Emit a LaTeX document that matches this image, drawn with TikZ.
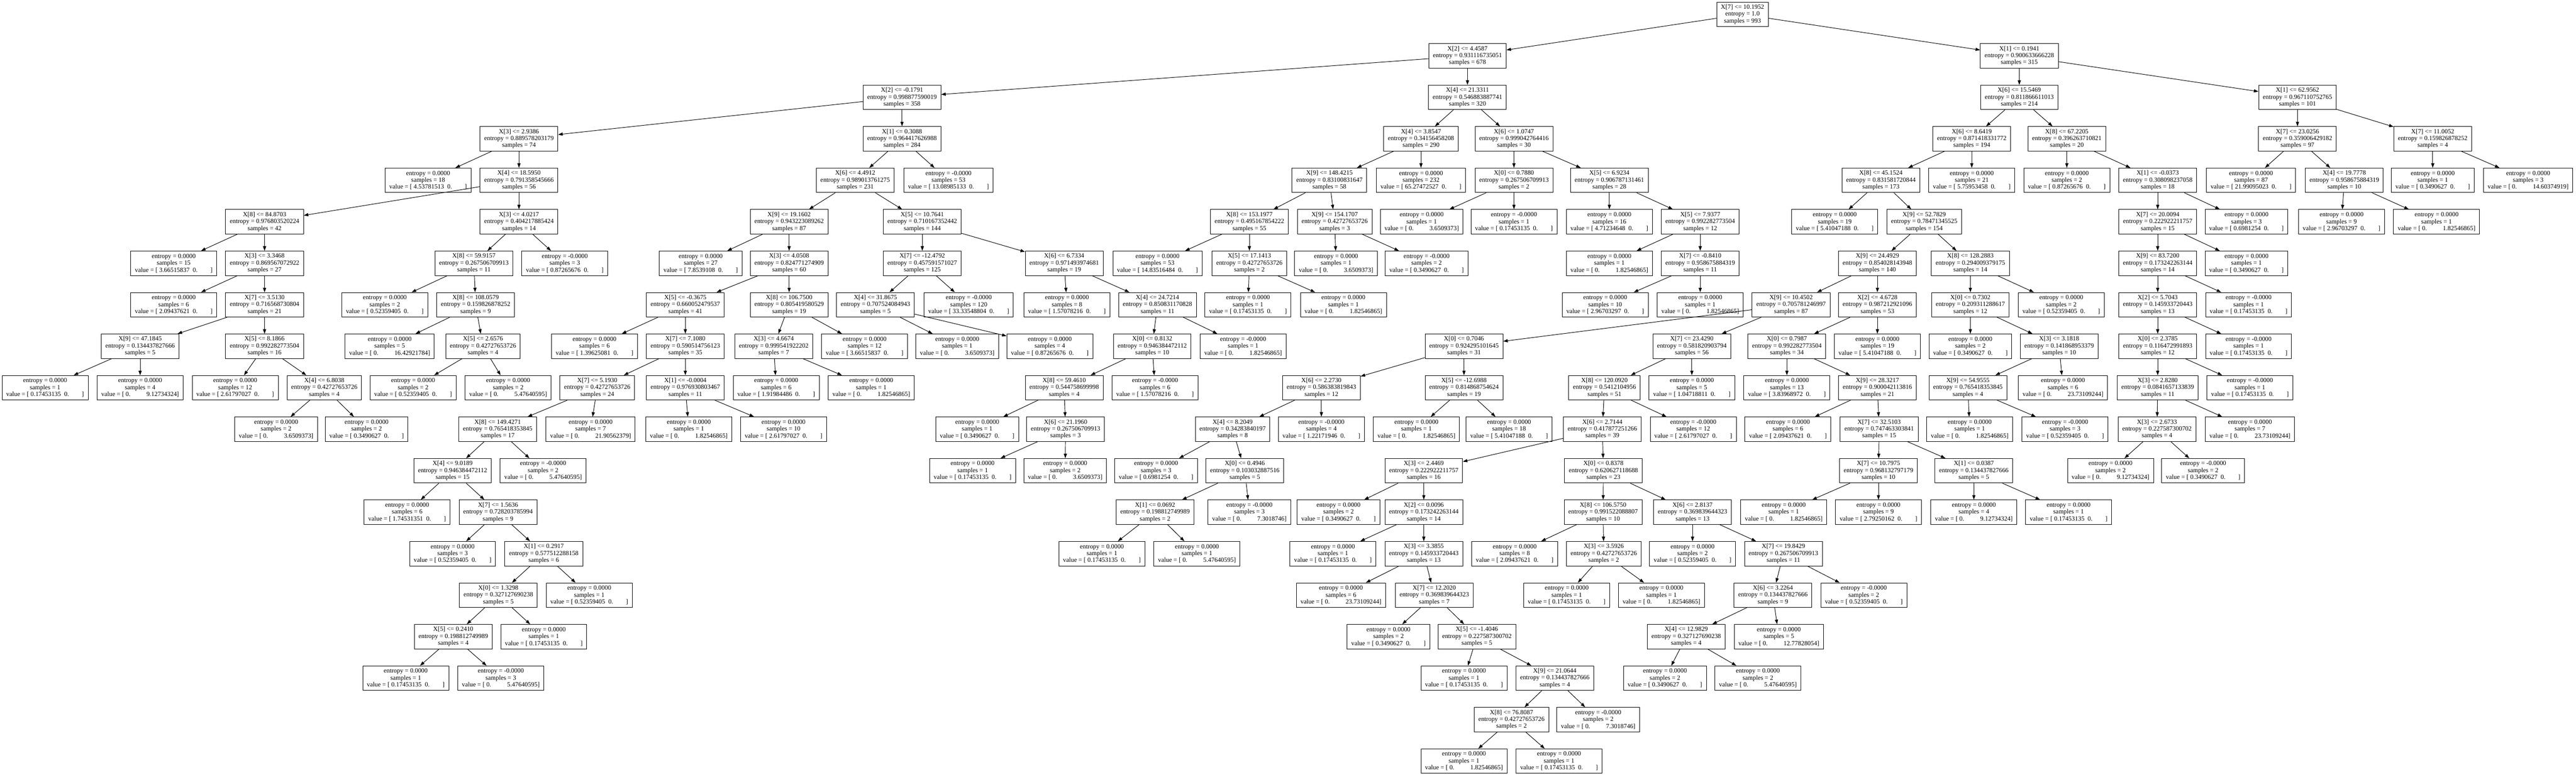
\documentclass[tikz,border=0pt]{standalone}
\usepackage{fontspec}
\setmainfont{Liberation Serif}
\usepackage{tikz}
\usetikzlibrary{arrows.meta}

\newcommand{\treefont}{\fontsize{5.2pt}{5.63pt}\selectfont}
\newcommand{\splittxt}[3]{#1\\entropy = #2\\samples = #3}
\newcommand{\leafl}[3]{entropy = #1\\samples = #2\\value = [ #3\hspace{.5em}0.\hspace{2em}]}
\newcommand{\leafr}[3]{entropy = #1\\samples = #2\\value = [ 0.\hspace{2.5em}#3]}

\begin{document}
\begin{tikzpicture}[
  x=0.01cm, y=-1.187cm,
  decision/.style={draw, line width=0.4pt, anchor=north, align=center, font=\treefont, inner xsep=0.12cm, inner ysep=0pt, minimum height=0.7cm},
  leaf/.style={decision},
  >={Triangle[length=1.3mm, width=0.9mm]}
]
\useasboundingbox (0,-0.0455) rectangle (7371,18.632);

% Root and first splits
\node[decision] (r0a) at (4986,0) {\splittxt{X[7] <= 10.1952}{1.0}{993}};
\node[decision] (r1a) at (4199,1) {\splittxt{X[2] <= 4.4587}{0.931116735051}{678}};
\node[decision] (r1b) at (5778,1) {\splittxt{X[1] <= 0.1941}{0.900633666228}{315}};

% Row 2
\node[decision] (r2a) at (2581,2) {\splittxt{X[2] <= -0.1791}{0.998877590019}{358}};
\node[decision] (r2b) at (4199,2) {\splittxt{X[4] <= 21.3311}{0.546883887741}{320}};
\node[decision] (r2c) at (5778,2) {\splittxt{X[6] <= 15.5469}{0.811866611013}{214}};
\node[decision] (r2d) at (6574,2) {\splittxt{X[1] <= 62.9562}{0.967110752765}{101}};

% Row 3
\node[decision] (r3a) at (1485,3) {\splittxt{X[3] <= 2.9386}{0.889578203179}{74}};
\node[decision] (r3b) at (2581,3) {\splittxt{X[1] <= 0.3088}{0.964417626988}{284}};
\node[decision] (r3c) at (4066,3) {\splittxt{X[4] <= 3.8547}{0.34156458208}{290}};
\node[decision] (r3d) at (4332,3) {\splittxt{X[6] <= 1.0747}{0.999042764416}{30}};
\node[decision] (r3e) at (5642,3) {\splittxt{X[6] <= 8.6419}{0.871418331772}{194}};
\node[decision] (r3f) at (5914,3) {\splittxt{X[8] <= 67.2205}{0.396263710821}{20}};
\node[decision] (r3g) at (6574,3) {\splittxt{X[7] <= 23.0256}{0.359006429182}{97}};
\node[decision] (r3h) at (6961,3) {\splittxt{X[7] <= 11.0052}{0.159826878252}{4}};

% Row 4
\node[leaf] (r4a) at (1225,4) {\leafl{0.0000}{18}{4.53781513}};
\node[decision] (r4b) at (1485,4) {\splittxt{X[4] <= 18.5950}{0.791358545666}{56}};
\node[decision] (r4c) at (2447,4) {\splittxt{X[6] <= 4.4912}{0.989013761275}{231}};
\node[leaf] (r4d) at (2714,4) {\leafl{-0.0000}{53}{13.08985133}};
\node[decision] (r4e) at (3804,4) {\splittxt{X[9] <= 148.4215}{0.83100831647}{58}};
\node[leaf] (r4f) at (4066,4) {\leafl{0.0000}{232}{65.27472527}};
\node[decision] (r4g) at (4332,4) {\splittxt{X[0] <= 0.7880}{0.267506709913}{2}};
\node[decision] (r4h) at (4605,4) {\splittxt{X[5] <= 6.9234}{0.906787131461}{28}};
\node[decision] (r4i) at (5382,4) {\splittxt{X[8] <= 45.1524}{0.831581720844}{173}};
\node[leaf] (r4j) at (5642,4) {\leafl{0.0000}{21}{5.75953458}};
\node[leaf] (r4k) at (5914,4) {\leafl{0.0000}{2}{0.87265676}};
\node[decision] (r4l) at (6174,4) {\splittxt{X[1] <= -0.0373}{0.308098237058}{18}};
\node[leaf] (r4m) at (6441,4) {\leafl{0.0000}{87}{21.99095023}};
\node[decision] (r4n) at (6708,4) {\splittxt{X[4] <= 19.7778}{0.958675884319}{10}};
\node[leaf] (r4o) at (6961,4) {\leafl{0.0000}{1}{0.3490627}};
\node[leaf] (r4p) at (7234,4) {\leafr{0.0000}{3}{14.60374919}};

% Row 5
\node[decision] (r5a) at (757,5) {\splittxt{X[8] <= 84.8703}{0.976803520224}{42}};
\node[decision] (r5b) at (1485,5) {\splittxt{X[3] <= 4.0217}{0.404217885424}{14}};
\node[decision] (r5c) at (2258,5) {\splittxt{X[9] <= 19.1602}{0.943223089262}{87}};
\node[decision] (r5d) at (2639,5) {\splittxt{X[5] <= 10.7641}{0.710167352442}{144}};
\node[decision] (r5e) at (3575,5) {\splittxt{X[8] <= 153.1977}{0.495167854222}{55}};
\node[decision] (r5f) at (3819,5) {\splittxt{X[9] <= 154.1707}{0.42727653726}{3}};
\node[leaf] (r5g) at (4068,5) {\leafr{0.0000}{1}{3.6509373}};
\node[leaf] (r5h) at (4332,5) {\leafl{-0.0000}{1}{0.17453135}};
\node[leaf] (r5i) at (4605,5) {\leafl{0.0000}{16}{4.71234648}};
\node[decision] (r5j) at (4865,5) {\splittxt{X[5] <= 7.9377}{0.992282773504}{12}};
\node[leaf] (r5k) at (5250,5) {\leafl{0.0000}{19}{5.41047188}};
\node[decision] (r5l) at (5506,5) {\splittxt{X[9] <= 52.7829}{0.78471345525}{154}};
\node[decision] (r5m) at (6174,5) {\splittxt{X[7] <= 20.0094}{0.222922211757}{15}};
\node[leaf] (r5n) at (6428,5) {\leafl{0.0000}{3}{0.6981254}};
\node[leaf] (r5o) at (6700,5) {\leafl{0.0000}{9}{2.96703297}};
\node[leaf] (r5p) at (6972,5) {\leafr{0.0000}{1}{1.82546865}};

% Row 6
\node[leaf] (r6a) at (497,6) {\leafl{0.0000}{15}{3.66515837}};
\node[decision] (r6b) at (757,6) {\splittxt{X[3] <= 3.3468}{0.869567072922}{27}};
\node[decision] (r6c) at (1356,6) {\splittxt{X[8] <= 59.9157}{0.267506709913}{11}};
\node[leaf] (r6d) at (1616,6) {\leafl{-0.0000}{3}{0.87265676}};
\node[leaf] (r6e) at (2005,6) {\leafl{0.0000}{27}{7.8539108}};
\node[decision] (r6f) at (2258,6) {\splittxt{X[3] <= 4.0508}{0.824771274909}{60}};
\node[decision] (r6g) at (2639,6) {\splittxt{X[7] <= -12.4792}{0.457591571027}{125}};
\node[decision] (r6h) at (3045,6) {\splittxt{X[6] <= 6.7334}{0.971493974681}{19}};
\node[leaf] (r6i) at (3312,6) {\leafl{0.0000}{53}{14.83516484}};
\node[decision] (r6j) at (3575,6) {\splittxt{X[5] <= 17.1413}{0.42727653726}{2}};
\node[leaf] (r6k) at (3823,6) {\leafr{0.0000}{1}{3.6509373}};
\node[leaf] (r6l) at (4082,6) {\leafl{-0.0000}{2}{0.3490627}};
\node[leaf] (r6m) at (4605,6) {\leafr{0.0000}{1}{1.82546865}};
\node[decision] (r6n) at (4865,6) {\splittxt{X[7] <= -0.8410}{0.958675884319}{11}};
\node[decision] (r6o) at (5372,6) {\splittxt{X[9] <= 24.4929}{0.854028143948}{140}};
\node[decision] (r6p) at (5638,6) {\splittxt{X[8] <= 128.2883}{0.294009379175}{14}};
\node[decision] (r6q) at (6174,6) {\splittxt{X[9] <= 83.7200}{0.173242263144}{14}};
\node[leaf] (r6r) at (6428,6) {\leafl{0.0000}{1}{0.3490627}};

% Row 7
\node[leaf] (r7a) at (497,7) {\leafl{0.0000}{6}{2.09437621}};
\node[decision] (r7b) at (757,7) {\splittxt{X[7] <= 3.5130}{0.716568730804}{21}};
\node[leaf] (r7c) at (1101,7) {\leafl{0.0000}{2}{0.52359405}};
\node[decision] (r7d) at (1361,7) {\splittxt{X[8] <= 108.0579}{0.159826878252}{9}};
\node[decision] (r7e) at (1961,7) {\splittxt{X[5] <= -0.3675}{0.660052479537}{41}};
\node[decision] (r7f) at (2258,7) {\splittxt{X[8] <= 106.7500}{0.805419580529}{19}};
\node[decision] (r7g) at (2505,7) {\splittxt{X[4] <= 31.8675}{0.707524084943}{5}};
\node[leaf] (r7h) at (2772,7) {\leafl{-0.0000}{120}{33.33548804}};
\node[leaf] (r7i) at (3053,7) {\leafl{0.0000}{8}{1.57078216}};
\node[decision] (r7j) at (3312,7) {\splittxt{X[4] <= 24.7214}{0.850831170828}{11}};
\node[leaf] (r7k) at (3571,7) {\leafl{0.0000}{1}{0.17453135}};
\node[leaf] (r7l) at (3844,7) {\leafr{0.0000}{1}{1.82546865}};
\node[leaf] (r7m) at (4593,7) {\leafl{0.0000}{10}{2.96703297}};
\node[leaf] (r7n) at (4865,7) {\leafr{0.0000}{1}{1.82546865}};
\node[decision] (r7o) at (5125,7) {\splittxt{X[9] <= 10.4502}{0.705781246997}{87}};
\node[decision] (r7p) at (5372,7) {\splittxt{X[2] <= 4.6728}{0.987212921096}{53}};
\node[decision] (r7q) at (5638,7) {\splittxt{X[0] <= 0.7302}{0.209311288617}{12}};
\node[leaf] (r7r) at (5898,7) {\leafl{0.0000}{2}{0.52359405}};
\node[decision] (r7s) at (6174,7) {\splittxt{X[2] <= 5.7043}{0.145933720443}{13}};
\node[leaf] (r7t) at (6434,7) {\leafl{-0.0000}{1}{0.17453135}};

% Row 8
\node[decision] (r8a) at (401,8) {\splittxt{X[9] <= 47.1845}{0.134437827666}{5}};
\node[decision] (r8b) at (757,8) {\splittxt{X[5] <= 8.1866}{0.992282773504}{16}};
\node[leaf] (r8c) at (1115,8) {\leafr{0.0000}{5}{16.42921784}};
\node[decision] (r8d) at (1382,8) {\splittxt{X[5] <= 2.6576}{0.42727653726}{4}};
\node[leaf] (r8e) at (1701,8) {\leafl{0.0000}{6}{1.39625081}};
\node[decision] (r8f) at (1961,8) {\splittxt{X[7] <= 7.1080}{0.590514756123}{35}};
\node[decision] (r8g) at (2214,8) {\splittxt{X[3] <= 4.6674}{0.999541922202}{7}};
\node[leaf] (r8h) at (2474,8) {\leafl{0.0000}{12}{3.66515837}};
\node[leaf] (r8i) at (2739,8) {\leafr{0.0000}{1}{3.6509373}};
\node[leaf] (r8j) at (3004,8) {\leafl{0.0000}{4}{0.87265676}};
\node[decision] (r8k) at (3297,8) {\splittxt{X[0] <= 0.8132}{0.946384472112}{10}};
\node[leaf] (r8l) at (3557,8) {\leafr{-0.0000}{1}{1.82546865}};
\node[decision] (r8m) at (4189,8) {\splittxt{X[0] <= 0.7046}{0.924295101645}{31}};
\node[decision] (r8n) at (4841,8) {\splittxt{X[7] <= 23.4290}{0.581820903794}{56}};
\node[decision] (r8o) at (5113,8) {\splittxt{X[0] <= 0.7987}{0.992282773504}{34}};
\node[leaf] (r8p) at (5372,8) {\leafl{0.0000}{19}{5.41047188}};
\node[leaf] (r8q) at (5638,8) {\leafl{0.0000}{2}{0.3490627}};
\node[decision] (r8r) at (5892,8) {\splittxt{X[3] <= 3.1818}{0.141868953379}{10}};
\node[decision] (r8s) at (6174,8) {\splittxt{X[0] <= 2.3785}{0.116472991893}{12}};
\node[leaf] (r8t) at (6434,8) {\leafl{-0.0000}{1}{0.17453135}};

% Row 9
\node[leaf] (r9a) at (129,9) {\leafl{0.0000}{1}{0.17453135}};
\node[leaf] (r9b) at (401,9) {\leafr{0.0000}{4}{9.12734324}};
\node[leaf] (r9c) at (673,9) {\leafl{0.0000}{12}{2.61797027}};
\node[decision] (r9d) at (928,9) {\splittxt{X[4] <= 6.8038}{0.42727653726}{4}};
\node[leaf] (r9e) at (1182,9) {\leafl{0.0000}{2}{0.52359405}};
\node[leaf] (r9f) at (1454,9) {\leafr{0.0000}{2}{5.47640595}};
\node[decision] (r9g) at (1709,9) {\splittxt{X[7] <= 5.1930}{0.42727653726}{24}};
\node[decision] (r9h) at (1961,9) {\splittxt{X[1] <= -0.0004}{0.976930803467}{11}};
\node[leaf] (r9i) at (2221,9) {\leafl{0.0000}{6}{1.91984486}};
\node[leaf] (r9j) at (2493,9) {\leafr{0.0000}{1}{1.82546865}};
\node[decision] (r9k) at (3045,9) {\splittxt{X[8] <= 59.4610}{0.544758699998}{4}};
\node[leaf] (r9l) at (3305,9) {\leafl{-0.0000}{6}{1.57078216}};
\node[decision] (r9m) at (3781,9) {\splittxt{X[6] <= 2.2730}{0.586383819843}{12}};
\node[decision] (r9n) at (4189,9) {\splittxt{X[5] <= -12.6988}{0.814868754624}{19}};
\node[decision] (r9o) at (4591,9) {\splittxt{X[8] <= 120.0920}{0.5412104956}{51}};
\node[leaf] (r9p) at (4841,9) {\leafl{0.0000}{5}{1.04718811}};
\node[leaf] (r9q) at (5113,9) {\leafl{0.0000}{13}{3.83968972}};
\node[decision] (r9r) at (5372,9) {\splittxt{X[9] <= 28.3217}{0.900042113816}{21}};
\node[decision] (r9s) at (5631,9) {\splittxt{X[9] <= 54.9555}{0.765418353845}{4}};
\node[leaf] (r9t) at (5903,9) {\leafr{0.0000}{6}{23.73109244}};
\node[decision] (r9u) at (6174,9) {\splittxt{X[3] <= 2.8280}{0.0841657133839}{11}};
\node[leaf] (r9v) at (6438,9) {\leafl{-0.0000}{1}{0.17453135}};

% Row 10
\node[leaf] (r10a) at (790,10) {\leafr{0.0000}{2}{3.6509373}};
\node[leaf] (r10b) at (1049,10) {\leafl{0.0000}{2}{0.3490627}};
\node[decision] (r10c) at (1424,10) {\splittxt{X[8] <= 149.4271}{0.765418353845}{17}};
\node[leaf] (r10d) at (1690,10) {\leafr{0.0000}{7}{21.90562379}};
\node[leaf] (r10e) at (1971,10) {\leafr{0.0000}{1}{1.82546865}};
\node[leaf] (r10f) at (2242,10) {\leafl{0.0000}{10}{2.61797027}};
\node[leaf] (r10g) at (2796,10) {\leafl{0.0000}{1}{0.3490627}};
\node[decision] (r10h) at (3049,10) {\splittxt{X[6] <= 21.1960}{0.267506709913}{3}};
\node[decision] (r10i) at (3527,10) {\splittxt{X[4] <= 8.2049}{0.34283840197}{8}};
\node[leaf] (r10j) at (3781,10) {\leafl{-0.0000}{4}{1.22171946}};
\node[leaf] (r10k) at (4053,10) {\leafr{0.0000}{1}{1.82546865}};
\node[leaf] (r10l) at (4318,10) {\leafl{0.0000}{18}{5.41047188}};
\node[decision] (r10m) at (4585,10) {\splittxt{X[6] <= 2.7144}{0.417877251266}{39}};
\node[leaf] (r10n) at (4845,10) {\leafl{-0.0000}{12}{2.61797027}};
\node[leaf] (r10o) at (5116,10) {\leafl{0.0000}{6}{2.09437621}};
\node[decision] (r10p) at (5377,10) {\splittxt{X[7] <= 32.5103}{0.747463303841}{15}};
\node[leaf] (r10q) at (5636,10) {\leafr{0.0000}{1}{1.82546865}};
\node[leaf] (r10r) at (5909,10) {\leafl{-0.0000}{3}{0.52359405}};
\node[decision] (r10s) at (6172,10) {\splittxt{X[3] <= 2.6733}{0.227587300702}{4}};
\node[leaf] (r10t) at (6438,10) {\leafr{0.0000}{7}{23.73109244}};

% Row 11
\node[decision] (r11a) at (1295,11) {\splittxt{X[4] <= 9.0189}{0.946384472112}{15}};
\node[leaf] (r11b) at (1554,11) {\leafr{-0.0000}{2}{5.47640595}};
\node[leaf] (r11c) at (2783,11) {\leafl{0.0000}{1}{0.17453135}};
\node[leaf] (r11d) at (3048,11) {\leafr{0.0000}{2}{3.6509373}};
\node[leaf] (r11e) at (3308,11) {\leafl{0.0000}{3}{0.6981254}};
\node[decision] (r11f) at (3562,11) {\splittxt{X[0] <= 0.4946}{0.103032887516}{5}};
\node[decision] (r11g) at (4074,11) {\splittxt{X[3] <= 2.4469}{0.222922211757}{16}};
\node[decision] (r11h) at (4588,11) {\splittxt{X[0] <= 0.8378}{0.620627118688}{23}};
\node[decision] (r11i) at (5375,11) {\splittxt{X[7] <= 10.7975}{0.968132797179}{10}};
\node[decision] (r11j) at (5648,11) {\splittxt{X[1] <= 0.0387}{0.134437827666}{5}};
\node[leaf] (r11k) at (6039,11) {\leafr{0.0000}{2}{9.12734324}};
\node[leaf] (r11l) at (6304,11) {\leafl{-0.0000}{2}{0.3490627}};

% Row 12
\node[leaf] (r12a) at (1165,12) {\leafl{0.0000}{6}{1.74531351}};
\node[decision] (r12b) at (1425,12) {\splittxt{X[7] <= 1.5636}{0.728203785994}{9}};
\node[decision] (r12c) at (3305,12) {\splittxt{X[1] <= 0.0692}{0.198812749989}{2}};
\node[leaf] (r12d) at (3575,12) {\leafr{-0.0000}{3}{7.3018746}};
\node[leaf] (r12e) at (3830,12) {\leafl{0.0000}{2}{0.3490627}};
\node[decision] (r12f) at (4074,12) {\splittxt{X[2] <= 0.0096}{0.173242263144}{14}};
\node[decision] (r12g) at (4587,12) {\splittxt{X[8] <= 106.5750}{0.991522088807}{10}};
\node[decision] (r12h) at (4843,12) {\splittxt{X[6] <= 2.8137}{0.369839644323}{13}};
\node[leaf] (r12i) at (5104,12) {\leafr{0.0000}{1}{1.82546865}};
\node[leaf] (r12j) at (5375,12) {\leafl{0.0000}{9}{2.79250162}};
\node[leaf] (r12k) at (5648,12) {\leafr{0.0000}{4}{9.12734324}};
\node[leaf] (r12l) at (5919,12) {\leafl{0.0000}{1}{0.17453135}};

% Row 13
\node[leaf] (r13a) at (1295,13) {\leafl{0.0000}{3}{0.52359405}};
\node[decision] (r13b) at (1556,13) {\splittxt{X[1] <= 0.2917}{0.577512288158}{6}};
\node[leaf] (r13c) at (3153,13) {\leafl{0.0000}{1}{0.17453135}};
\node[leaf] (r13d) at (3425,13) {\leafr{0.0000}{1}{5.47640595}};
\node[leaf] (r13e) at (3814,13) {\leafl{0.0000}{1}{0.17453135}};
\node[decision] (r13f) at (4074,13) {\splittxt{X[3] <= 3.3855}{0.145933720443}{13}};
\node[leaf] (r13g) at (4334,13) {\leafl{0.0000}{8}{2.09437621}};
\node[decision] (r13h) at (4589,13) {\splittxt{X[3] <= 3.5926}{0.42727653726}{2}};
\node[leaf] (r13i) at (4843,13) {\leafl{0.0000}{2}{0.52359405}};
\node[decision] (r13j) at (5103,13) {\splittxt{X[7] <= 19.8429}{0.267506709913}{11}};

% Row 14
\node[decision] (r14a) at (1426,14) {\splittxt{X[0] <= 1.3298}{0.327127690238}{5}};
\node[leaf] (r14b) at (1686,14) {\leafl{0.0000}{1}{0.52359405}};
\node[leaf] (r14c) at (3837,14) {\leafr{0.0000}{6}{23.73109244}};
\node[decision] (r14d) at (4104,14) {\splittxt{X[7] <= 12.2020}{0.369839644323}{7}};
\node[leaf] (r14e) at (4483,14) {\leafl{0.0000}{1}{0.17453135}};
\node[leaf] (r14f) at (4754,14) {\leafr{0.0000}{1}{1.82546865}};
\node[decision] (r14g) at (5073,14) {\splittxt{X[6] <= 3.2264}{0.134437827666}{9}};
\node[leaf] (r14h) at (5333,14) {\leafl{-0.0000}{2}{0.52359405}};

% Row 15
\node[decision] (r15a) at (1297,15) {\splittxt{X[5] <= 0.2410}{0.198812749989}{4}};
\node[leaf] (r15b) at (1556,15) {\leafl{0.0000}{1}{0.17453135}};
\node[leaf] (r15c) at (3973,15) {\leafl{0.0000}{2}{0.3490627}};
\node[decision] (r15d) at (4226,15) {\splittxt{X[5] <= -1.4046}{0.227587300702}{5}};
\node[decision] (r15e) at (4825,15) {\splittxt{X[4] <= 12.9829}{0.327127690238}{4}};
\node[leaf] (r15f) at (5090,15) {\leafr{0.0000}{5}{12.77828054}};

% Row 16
\node[leaf] (r16a) at (1161,16) {\leafl{0.0000}{1}{0.17453135}};
\node[leaf] (r16b) at (1433,16) {\leafr{-0.0000}{3}{5.47640595}};
\node[leaf] (r16c) at (4189,16) {\leafl{0.0000}{1}{0.17453135}};
\node[decision] (r16d) at (4449,16) {\splittxt{X[9] <= 21.0644}{0.134437827666}{4}};
\node[leaf] (r16e) at (4764,16) {\leafl{0.0000}{2}{0.3490627}};
\node[leaf] (r16f) at (5030,16) {\leafr{0.0000}{2}{5.47640595}};

% Rows 17 and 18
\node[decision] (r17a) at (4325,17) {\splittxt{X[8] <= 76.8087}{0.42727653726}{2}};
\node[leaf] (r17b) at (4573,17) {\leafr{-0.0000}{2}{7.3018746}};
\node[leaf] (r18a) at (4189,18) {\leafr{0.0000}{1}{1.82546865}};
\node[leaf] (r18b) at (4461,18) {\leafl{0.0000}{1}{0.17453135}};

% Edges, parent to child
\draw[line width=0.4pt, ->] (r0a) -- (r1a);
\draw[line width=0.4pt, ->] (r0a) -- (r1b);
\draw[line width=0.4pt, ->] (r1a) -- (r2a);
\draw[line width=0.4pt, ->] (r1a) -- (r2b);
\draw[line width=0.4pt, ->] (r1b) -- (r2c);
\draw[line width=0.4pt, ->] (r1b) -- (r2d);
\draw[line width=0.4pt, ->] (r2a) -- (r3a);
\draw[line width=0.4pt, ->] (r2a) -- (r3b);
\draw[line width=0.4pt, ->] (r2b) -- (r3c);
\draw[line width=0.4pt, ->] (r2b) -- (r3d);
\draw[line width=0.4pt, ->] (r2c) -- (r3e);
\draw[line width=0.4pt, ->] (r2c) -- (r3f);
\draw[line width=0.4pt, ->] (r2d) -- (r3g);
\draw[line width=0.4pt, ->] (r2d) -- (r3h);
\draw[line width=0.4pt, ->] (r3a) -- (r4a);
\draw[line width=0.4pt, ->] (r3a) -- (r4b);
\draw[line width=0.4pt, ->] (r3b) -- (r4c);
\draw[line width=0.4pt, ->] (r3b) -- (r4d);
\draw[line width=0.4pt, ->] (r3c) -- (r4e);
\draw[line width=0.4pt, ->] (r3c) -- (r4f);
\draw[line width=0.4pt, ->] (r3d) -- (r4g);
\draw[line width=0.4pt, ->] (r3d) -- (r4h);
\draw[line width=0.4pt, ->] (r3e) -- (r4i);
\draw[line width=0.4pt, ->] (r3e) -- (r4j);
\draw[line width=0.4pt, ->] (r3f) -- (r4k);
\draw[line width=0.4pt, ->] (r3f) -- (r4l);
\draw[line width=0.4pt, ->] (r3g) -- (r4m);
\draw[line width=0.4pt, ->] (r3g) -- (r4n);
\draw[line width=0.4pt, ->] (r3h) -- (r4o);
\draw[line width=0.4pt, ->] (r3h) -- (r4p);
\draw[line width=0.4pt, ->] (r4b) -- (r5a);
\draw[line width=0.4pt, ->] (r4b) -- (r5b);
\draw[line width=0.4pt, ->] (r4c) -- (r5c);
\draw[line width=0.4pt, ->] (r4c) -- (r5d);
\draw[line width=0.4pt, ->] (r4e) -- (r5e);
\draw[line width=0.4pt, ->] (r4e) -- (r5f);
\draw[line width=0.4pt, ->] (r4g) -- (r5g);
\draw[line width=0.4pt, ->] (r4g) -- (r5h);
\draw[line width=0.4pt, ->] (r4h) -- (r5i);
\draw[line width=0.4pt, ->] (r4h) -- (r5j);
\draw[line width=0.4pt, ->] (r4i) -- (r5k);
\draw[line width=0.4pt, ->] (r4i) -- (r5l);
\draw[line width=0.4pt, ->] (r4l) -- (r5m);
\draw[line width=0.4pt, ->] (r4l) -- (r5n);
\draw[line width=0.4pt, ->] (r4n) -- (r5o);
\draw[line width=0.4pt, ->] (r4n) -- (r5p);
\draw[line width=0.4pt, ->] (r5a) -- (r6a);
\draw[line width=0.4pt, ->] (r5a) -- (r6b);
\draw[line width=0.4pt, ->] (r5b) -- (r6c);
\draw[line width=0.4pt, ->] (r5b) -- (r6d);
\draw[line width=0.4pt, ->] (r5c) -- (r6e);
\draw[line width=0.4pt, ->] (r5c) -- (r6f);
\draw[line width=0.4pt, ->] (r5d) -- (r6g);
\draw[line width=0.4pt, ->] (r5d) -- (r6h);
\draw[line width=0.4pt, ->] (r5e) -- (r6i);
\draw[line width=0.4pt, ->] (r5e) -- (r6j);
\draw[line width=0.4pt, ->] (r5f) -- (r6k);
\draw[line width=0.4pt, ->] (r5f) -- (r6l);
\draw[line width=0.4pt, ->] (r5j) -- (r6m);
\draw[line width=0.4pt, ->] (r5j) -- (r6n);
\draw[line width=0.4pt, ->] (r5l) -- (r6o);
\draw[line width=0.4pt, ->] (r5l) -- (r6p);
\draw[line width=0.4pt, ->] (r5m) -- (r6q);
\draw[line width=0.4pt, ->] (r5m) -- (r6r);
\draw[line width=0.4pt, ->] (r6b) -- (r7a);
\draw[line width=0.4pt, ->] (r6b) -- (r7b);
\draw[line width=0.4pt, ->] (r6c) -- (r7c);
\draw[line width=0.4pt, ->] (r6c) -- (r7d);
\draw[line width=0.4pt, ->] (r6f) -- (r7e);
\draw[line width=0.4pt, ->] (r6f) -- (r7f);
\draw[line width=0.4pt, ->] (r6g) -- (r7g);
\draw[line width=0.4pt, ->] (r6g) -- (r7h);
\draw[line width=0.4pt, ->] (r6h) -- (r7i);
\draw[line width=0.4pt, ->] (r6h) -- (r7j);
\draw[line width=0.4pt, ->] (r6j) -- (r7k);
\draw[line width=0.4pt, ->] (r6j) -- (r7l);
\draw[line width=0.4pt, ->] (r6n) -- (r7m);
\draw[line width=0.4pt, ->] (r6n) -- (r7n);
\draw[line width=0.4pt, ->] (r6o) -- (r7o);
\draw[line width=0.4pt, ->] (r6o) -- (r7p);
\draw[line width=0.4pt, ->] (r6p) -- (r7q);
\draw[line width=0.4pt, ->] (r6p) -- (r7r);
\draw[line width=0.4pt, ->] (r6q) -- (r7s);
\draw[line width=0.4pt, ->] (r6q) -- (r7t);
\draw[line width=0.4pt, ->] (r7b) -- (r8a);
\draw[line width=0.4pt, ->] (r7b) -- (r8b);
\draw[line width=0.4pt, ->] (r7d) -- (r8c);
\draw[line width=0.4pt, ->] (r7d) -- (r8d);
\draw[line width=0.4pt, ->] (r7e) -- (r8e);
\draw[line width=0.4pt, ->] (r7e) -- (r8f);
\draw[line width=0.4pt, ->] (r7f) -- (r8g);
\draw[line width=0.4pt, ->] (r7f) -- (r8h);
\draw[line width=0.4pt, ->] (r7g) -- (r8i);
\draw[line width=0.4pt, ->] (r7g) -- (r8j);
\draw[line width=0.4pt, ->] (r7j) -- (r8k);
\draw[line width=0.4pt, ->] (r7j) -- (r8l);
\draw[line width=0.4pt, ->] (r7o) -- (r8m);
\draw[line width=0.4pt, ->] (r7o) -- (r8n);
\draw[line width=0.4pt, ->] (r7p) -- (r8o);
\draw[line width=0.4pt, ->] (r7p) -- (r8p);
\draw[line width=0.4pt, ->] (r7q) -- (r8q);
\draw[line width=0.4pt, ->] (r7q) -- (r8r);
\draw[line width=0.4pt, ->] (r7s) -- (r8s);
\draw[line width=0.4pt, ->] (r7s) -- (r8t);
\draw[line width=0.4pt, ->] (r8a) -- (r9a);
\draw[line width=0.4pt, ->] (r8a) -- (r9b);
\draw[line width=0.4pt, ->] (r8b) -- (r9c);
\draw[line width=0.4pt, ->] (r8b) -- (r9d);
\draw[line width=0.4pt, ->] (r8d) -- (r9e);
\draw[line width=0.4pt, ->] (r8d) -- (r9f);
\draw[line width=0.4pt, ->] (r8f) -- (r9g);
\draw[line width=0.4pt, ->] (r8f) -- (r9h);
\draw[line width=0.4pt, ->] (r8g) -- (r9i);
\draw[line width=0.4pt, ->] (r8g) -- (r9j);
\draw[line width=0.4pt, ->] (r8k) -- (r9k);
\draw[line width=0.4pt, ->] (r8k) -- (r9l);
\draw[line width=0.4pt, ->] (r8m) -- (r9m);
\draw[line width=0.4pt, ->] (r8m) -- (r9n);
\draw[line width=0.4pt, ->] (r8n) -- (r9o);
\draw[line width=0.4pt, ->] (r8n) -- (r9p);
\draw[line width=0.4pt, ->] (r8o) -- (r9q);
\draw[line width=0.4pt, ->] (r8o) -- (r9r);
\draw[line width=0.4pt, ->] (r8r) -- (r9s);
\draw[line width=0.4pt, ->] (r8r) -- (r9t);
\draw[line width=0.4pt, ->] (r8s) -- (r9u);
\draw[line width=0.4pt, ->] (r8s) -- (r9v);
\draw[line width=0.4pt, ->] (r9d) -- (r10a);
\draw[line width=0.4pt, ->] (r9d) -- (r10b);
\draw[line width=0.4pt, ->] (r9g) -- (r10c);
\draw[line width=0.4pt, ->] (r9g) -- (r10d);
\draw[line width=0.4pt, ->] (r9h) -- (r10e);
\draw[line width=0.4pt, ->] (r9h) -- (r10f);
\draw[line width=0.4pt, ->] (r9k) -- (r10g);
\draw[line width=0.4pt, ->] (r9k) -- (r10h);
\draw[line width=0.4pt, ->] (r9m) -- (r10i);
\draw[line width=0.4pt, ->] (r9m) -- (r10j);
\draw[line width=0.4pt, ->] (r9n) -- (r10k);
\draw[line width=0.4pt, ->] (r9n) -- (r10l);
\draw[line width=0.4pt, ->] (r9o) -- (r10m);
\draw[line width=0.4pt, ->] (r9o) -- (r10n);
\draw[line width=0.4pt, ->] (r9r) -- (r10o);
\draw[line width=0.4pt, ->] (r9r) -- (r10p);
\draw[line width=0.4pt, ->] (r9s) -- (r10q);
\draw[line width=0.4pt, ->] (r9s) -- (r10r);
\draw[line width=0.4pt, ->] (r9u) -- (r10s);
\draw[line width=0.4pt, ->] (r9u) -- (r10t);
\draw[line width=0.4pt, ->] (r10c) -- (r11a);
\draw[line width=0.4pt, ->] (r10c) -- (r11b);
\draw[line width=0.4pt, ->] (r10h) -- (r11c);
\draw[line width=0.4pt, ->] (r10h) -- (r11d);
\draw[line width=0.4pt, ->] (r10i) -- (r11e);
\draw[line width=0.4pt, ->] (r10i) -- (r11f);
\draw[line width=0.4pt, ->] (r10m) -- (r11g);
\draw[line width=0.4pt, ->] (r10m) -- (r11h);
\draw[line width=0.4pt, ->] (r10p) -- (r11i);
\draw[line width=0.4pt, ->] (r10p) -- (r11j);
\draw[line width=0.4pt, ->] (r10s) -- (r11k);
\draw[line width=0.4pt, ->] (r10s) -- (r11l);
\draw[line width=0.4pt, ->] (r11a) -- (r12a);
\draw[line width=0.4pt, ->] (r11a) -- (r12b);
\draw[line width=0.4pt, ->] (r11f) -- (r12c);
\draw[line width=0.4pt, ->] (r11f) -- (r12d);
\draw[line width=0.4pt, ->] (r11g) -- (r12e);
\draw[line width=0.4pt, ->] (r11g) -- (r12f);
\draw[line width=0.4pt, ->] (r11h) -- (r12g);
\draw[line width=0.4pt, ->] (r11h) -- (r12h);
\draw[line width=0.4pt, ->] (r11i) -- (r12i);
\draw[line width=0.4pt, ->] (r11i) -- (r12j);
\draw[line width=0.4pt, ->] (r11j) -- (r12k);
\draw[line width=0.4pt, ->] (r11j) -- (r12l);
\draw[line width=0.4pt, ->] (r12b) -- (r13a);
\draw[line width=0.4pt, ->] (r12b) -- (r13b);
\draw[line width=0.4pt, ->] (r12c) -- (r13c);
\draw[line width=0.4pt, ->] (r12c) -- (r13d);
\draw[line width=0.4pt, ->] (r12f) -- (r13e);
\draw[line width=0.4pt, ->] (r12f) -- (r13f);
\draw[line width=0.4pt, ->] (r12g) -- (r13g);
\draw[line width=0.4pt, ->] (r12g) -- (r13h);
\draw[line width=0.4pt, ->] (r12h) -- (r13i);
\draw[line width=0.4pt, ->] (r12h) -- (r13j);
\draw[line width=0.4pt, ->] (r13b) -- (r14a);
\draw[line width=0.4pt, ->] (r13b) -- (r14b);
\draw[line width=0.4pt, ->] (r13f) -- (r14c);
\draw[line width=0.4pt, ->] (r13f) -- (r14d);
\draw[line width=0.4pt, ->] (r13h) -- (r14e);
\draw[line width=0.4pt, ->] (r13h) -- (r14f);
\draw[line width=0.4pt, ->] (r13j) -- (r14g);
\draw[line width=0.4pt, ->] (r13j) -- (r14h);
\draw[line width=0.4pt, ->] (r14a) -- (r15a);
\draw[line width=0.4pt, ->] (r14a) -- (r15b);
\draw[line width=0.4pt, ->] (r14d) -- (r15c);
\draw[line width=0.4pt, ->] (r14d) -- (r15d);
\draw[line width=0.4pt, ->] (r14g) -- (r15e);
\draw[line width=0.4pt, ->] (r14g) -- (r15f);
\draw[line width=0.4pt, ->] (r15a) -- (r16a);
\draw[line width=0.4pt, ->] (r15a) -- (r16b);
\draw[line width=0.4pt, ->] (r15d) -- (r16c);
\draw[line width=0.4pt, ->] (r15d) -- (r16d);
\draw[line width=0.4pt, ->] (r15e) -- (r16e);
\draw[line width=0.4pt, ->] (r15e) -- (r16f);
\draw[line width=0.4pt, ->] (r16d) -- (r17a);
\draw[line width=0.4pt, ->] (r16d) -- (r17b);
\draw[line width=0.4pt, ->] (r17a) -- (r18a);
\draw[line width=0.4pt, ->] (r17a) -- (r18b);

\end{tikzpicture}
\end{document}
